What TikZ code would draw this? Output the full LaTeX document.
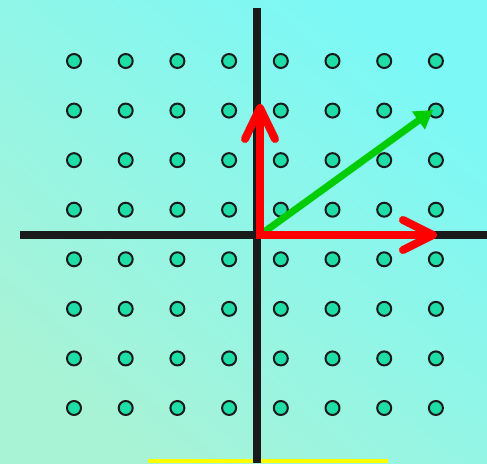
\documentclass[tikz,border=0pt]{standalone}
\usetikzlibrary{arrows.meta}
\definecolor{bgA}{HTML}{7CF8F6}
\definecolor{bgB}{HTML}{A8F3D6}
\definecolor{dotfill}{HTML}{1FDDA6}
\definecolor{ink}{HTML}{1A1A1A}
\definecolor{vred}{HTML}{FF0000}
\definecolor{vgreen}{HTML}{00CC00}
\definecolor{yellowbar}{HTML}{FFFF00}
\tikzset{
  axis/.style={draw=ink, line width=8pt},
  griddot/.style={circle, fill=dotfill, draw=ink, line width=2pt, minimum size=14pt, inner sep=0pt},
  redvec/.style={draw=vred, line width=8pt},
  redhead/.style={draw=vred, line width=8pt, line cap=round, line join=round},
  greenvec/.style={draw=vgreen, line width=7pt, -{Triangle[length=18pt,width=21pt]}},
}
\begin{document}
\begin{tikzpicture}[x=1pt,y=-1pt]
\shade[top color=bgA, bottom color=bgB, shading angle=-40] (0,0) rectangle (487,463);
\useasboundingbox (0,0) rectangle (487,463);
% yellow bar
\fill[fill=yellowbar] (148,459) rectangle (388,463);
% axes
\coordinate (xl) at (20,235);
\coordinate (xr) at (487,235);
\coordinate (yt) at (257,8);
\coordinate (yb) at (257,463);
\draw[axis] (xl) -- (xr);
\draw[axis] (yt) -- (yb);
% dots
\foreach \i in {0,...,7}{
  \foreach \j in {0,...,7}{
    \node[griddot] (d\i\j) at ({74+51.7*\i},{61+49.57*\j}) {};
  }
}
% vectors
\coordinate (o) at (260,235);
\coordinate (oh) at (256,235);
\coordinate (ov) at (260,239);
\coordinate (ex) at (433,235);
\coordinate (ey) at (260,108);
\coordinate (eg) at (433,110);
\draw[greenvec] (o) -- (eg);
\draw[redvec] (oh) -- (430,235);
\draw[redvec] (ov) -- (260,112);
\draw[redhead] (403,220) -- (ex) -- (403,250);
\draw[redhead] (245,139) -- (ey) -- (275,139);
\end{tikzpicture}
\end{document}
